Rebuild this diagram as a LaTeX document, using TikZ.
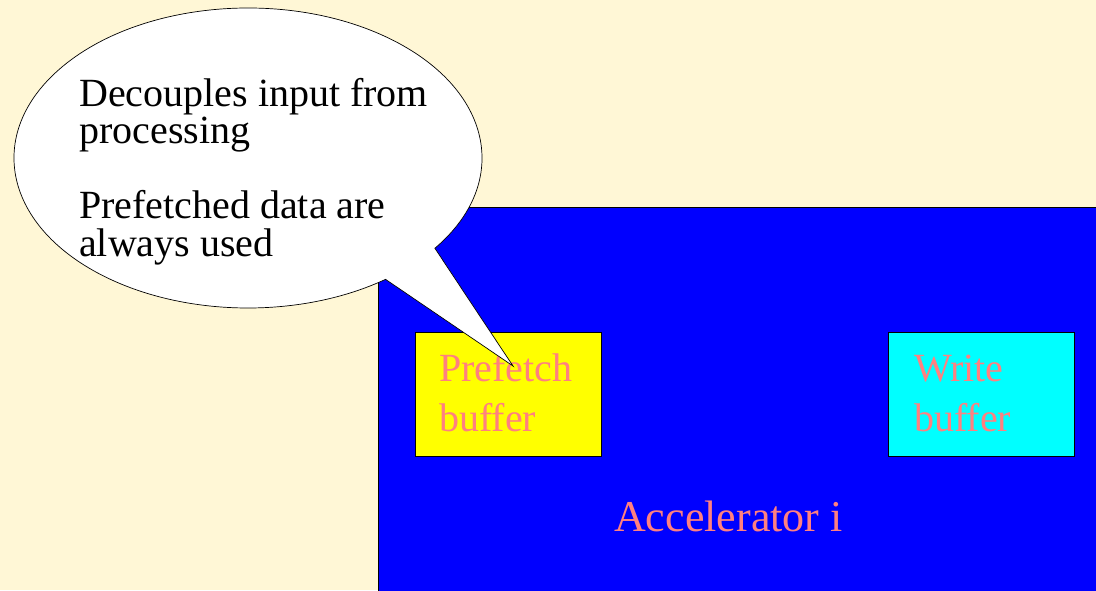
\documentclass[tikz,border=0pt]{standalone}
\usepackage{fontspec}
\setmainfont{Liberation Serif}
\definecolor{paper}{RGB}{255,247,214}
\definecolor{salmon}{RGB}{255,128,128}
\definecolor{panelblue}{RGB}{0,0,255}
\definecolor{bufyellow}{RGB}{255,255,0}
\definecolor{bufcyan}{RGB}{0,255,255}
\begin{document}
\begin{tikzpicture}[x=1pt,y=1pt,
  panel/.style={draw=black,line width=0.8pt},
  bufbox/.style={draw=black,line width=0.8pt},
  bubbletext/.style={anchor=base west,inner sep=0pt,font=\fontsize{40}{37}\selectfont,text=black},
  buftext/.style={anchor=base west,inner sep=0pt,font=\fontsize{40}{48}\selectfont,text=salmon},
  acctext/.style={anchor=base west,inner sep=0pt,font=\fontsize{44}{52}\selectfont,text=salmon}]
  % page
  \fill[paper] (0,0) rectangle (1096,590);
  \useasboundingbox (0,0) rectangle (1096,590);

  % accelerator panel
  \path[panel,fill=panelblue] (378,-10) rectangle (1106,383);
  \path[bufbox,fill=bufyellow] (415,134) rectangle (601,258);
  \path[bufbox,fill=bufcyan] (888,134) rectangle (1074,258);

  \node[buftext] (pf1) at (439,208) {Prefetch};
  \node[buftext] (pf2) at (439,159) {buffer};
  \node[buftext] (wb1) at (914,208) {Write};
  \node[buftext] (wb2) at (914,159) {buffer};
  \node[acctext] (acc) at (614,59) {Accelerator i};

  % speech bubble with its tail pointing into the prefetch buffer
  \coordinate (bc) at (248,432);
  \coordinate (tip) at (513,224);
  \draw[fill=white,line width=0.7pt,line join=miter]
    (tip) -- ([shift={(-37:234pt and 150pt)}]bc)
    arc[start angle=-37,end angle=306,x radius=234pt,y radius=150pt]
    -- cycle;

  \node[bubbletext] (d1) at (79,483) {Decouples input from};
  \node[bubbletext] (d2) at (79,446) {processing};
  \node[bubbletext] (d3) at (79,371) {Prefetched data are};
  \node[bubbletext] (d4) at (79,333) {always used};
\end{tikzpicture}
\end{document}
